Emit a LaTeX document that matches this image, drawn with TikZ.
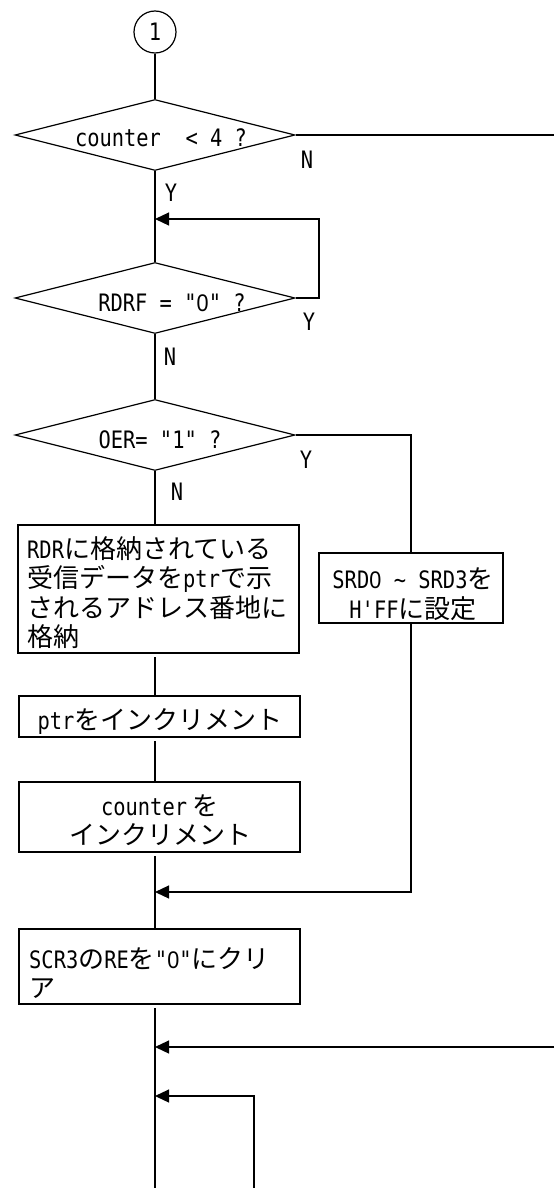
\documentclass[tikz,border=0pt]{standalone}
\usepackage{fontspec}
\setmainfont{Noto Sans CJK JP}
\newfontfamily\monohw[FakeStretch=0.85]{DejaVu Sans Mono}
\newfontfamily\zfont[FakeStretch=0.9]{Liberation Sans}
\usetikzlibrary{shapes.geometric,arrows.meta}
\newcommand\jpsize{\fontsize{26pt}{29.5pt}\selectfont}
\newcommand\hwm[1]{{\fontsize{24pt}{29.5pt}\selectfont\monohw #1}}
\newcommand\zr{\makebox[12.3pt]{\zfont 0}}
\tikzset{
  ln/.style={line width=1.2pt},
  arr/.style={ln,-{Triangle[length=14pt,width=13pt]}},
  dec/.style={draw,ln,diamond,aspect=4,minimum width=280pt,minimum height=71pt,inner sep=0pt},
  box/.style={draw,ln,rectangle,inner sep=0pt},
  txt/.style={inner sep=0pt,font=\jpsize},
  lbl/.style={inner sep=0pt,font=\fontsize{24pt}{24pt}\selectfont\monohw},
  conn/.style={draw,ln,circle,minimum size=42pt,inner sep=0pt,font=\fontsize{24pt}{24pt}\selectfont\monohw},
  gap/.style={shorten <=3.5pt}
}
\begin{document}
\begin{tikzpicture}[x=1pt,y=-1pt]
\useasboundingbox (0,0) rectangle (554,1188);
% connector circle
\node[conn] (c1) at (155,32) {1};
% decisions
\node[dec] (d1) at (155,135) {};
\node[lbl] (d1t) at (161,138) {counter\ \ < 4 ?};
\node[dec] (d2) at (155,298) {};
\node[lbl] (d2t) at (172,303) {RDRF = "\zr" ?};
\node[dec] (d3) at (155,435) {};
\node[lbl] (d3t) at (160,440) {OER= "1" ?};
% process boxes
\node[box,minimum width=281pt,minimum height=128pt] (b1) at (158.5,589) {};
\node[txt,anchor=west,align=left] (b1t) at (27,592.5)
  {\hwm{RDR}に格納されている\\受信データを\hwm{ptr}で示\\されるアドレス番地に\\格納};
\node[box,minimum width=184pt,minimum height=70pt] (bs) at (411,588) {};
\node[txt,align=center] (bst) at (413,594)
  {\hwm{SRD\zr\ \char"7E\ SRD3}を\\\hwm{H'FF}に設定};
\node[box,minimum width=281pt,minimum height=41pt] (b2) at (159.5,716.5) {};
\node[txt] (b2t) at (160,721) {\hwm{ptr}をインクリメント};
\node[box,minimum width=281pt,minimum height=70pt] (b3) at (159.5,817) {};
\node[txt,align=center] (b3t) at (160,820) {\hwm{counter} を\\インクリメント};
\node[box,minimum width=281pt,minimum height=75pt] (b4) at (159.5,966.5) {};
\node[txt,anchor=west,align=left] (b4t) at (29,973)
  {\hwm{SCR3}の\hwm{RE}を\hwm{"\zr"}にクリ\\ア};
% branch labels
\node[lbl] (n1) at (307,160) {N};
\node[lbl] (y1) at (171,193) {Y};
\node[lbl] (y2) at (309,322) {Y};
\node[lbl] (n2) at (170,357) {N};
\node[lbl] (y3) at (306,460) {Y};
\node[lbl] (n3) at (177,492) {N};
% free coordinates
\coordinate (outR) at (554,135);
\coordinate (loop) at (319,219);
\coordinate (merge) at (155,892);
\coordinate (bot) at (155,1188);
\coordinate (inR) at (554,1047);
\coordinate (lb) at (254,1188);
\coordinate (lt) at (254,1096);
% connectors
\draw[ln] (c1.south) -- (d1.north);
\draw[ln] (d1.east) -- (outR);
\draw[ln] (d1.south) -- (d2.north);
\draw[arr] (d2.east) -| (loop) -- (loop -| d2.north);
\draw[ln] (d2.south) -- (d3.north);
\draw[ln] (d3.south) -- (d3.south |- b1.north);
\draw[ln] (d3.east) -| (bs.north);
\draw[ln,gap] (b1.south -| d1.south) -- (b2.north -| d1.south);
\draw[ln,gap] (b2.south -| d1.south) -- (b3.north -| d1.south);
\draw[ln,gap] (b3.south -| d1.south) -- (b4.north -| d1.south);
\draw[arr] (bs.south) |- (merge);
\draw[ln,gap] (b4.south -| d1.south) -- (bot);
\draw[arr] (inR) -- (inR -| d1.south);
\draw[arr] (lb) -- (lt) -- (lt -| d1.south);
\end{tikzpicture}
\end{document}
